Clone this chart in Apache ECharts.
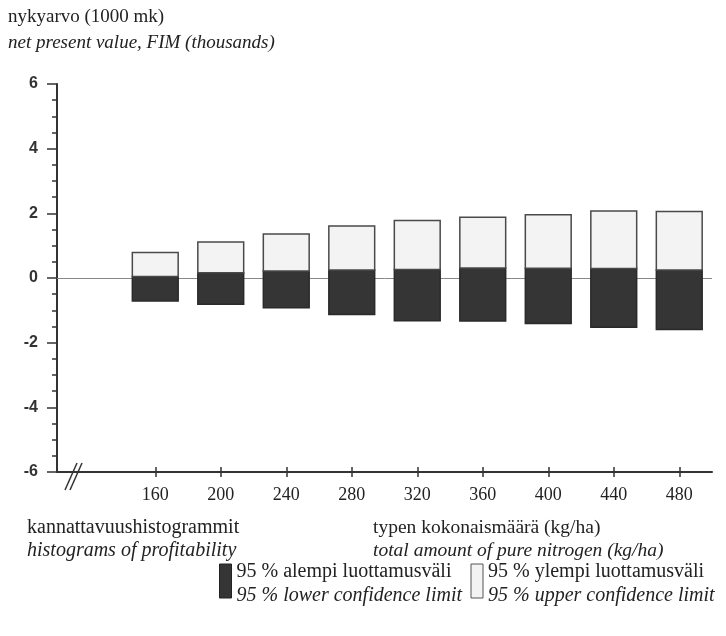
<!DOCTYPE html>
<html>
<head>
<meta charset="utf-8">
<script src="https://cdn.jsdelivr.net/npm/echarts@6/dist/echarts.min.js"></script>
<style>
  html, body { margin: 0; padding: 0; background: #fff; }
  #chart { width: 726px; height: 636px; }
</style>
</head>
<body>
<div id="chart"></div>
<script>
// nitrogen rates (kg/ha)
const nitrogen = [160, 200, 240, 280, 320, 360, 400, 440, 480];
// 95 % upper confidence limit (1000 mk)
const upperLimit = [0.79, 1.11, 1.36, 1.61, 1.78, 1.88, 1.96, 2.07, 2.06];
// split between dark and light part
const midValue = [0.05, 0.16, 0.22, 0.25, 0.26, 0.31, 0.30, 0.29, 0.25];
// 95 % lower confidence limit (1000 mk)
const lowerLimit = [-0.71, -0.81, -0.92, -1.13, -1.32, -1.33, -1.41, -1.52, -1.59];

const serif = '"Liberation Serif", "Times New Roman", serif';
const textColor = '#222';

const darkColor = '#353535';
const lightColor = '#f3f3f3';

// bars: rect from low to high at given nitrogen value
const renderBox = (params, api) => {
    const x = api.value(0);
    const top = api.coord([x, api.value(2)]);
    const bottom = api.coord([x, api.value(1)]);
    const w = api.size([40, 0])[0] * 0.7;
    return {
        type: 'rect',
        shape: { x: top[0] - w / 2, y: top[1], width: w, height: bottom[1] - top[1] },
        style: api.style()
    };
};

const chart = echarts.init(document.getElementById('chart'));
chart.setOption({
    animation: false,
    backgroundColor: '#fff',
    grid: { left: 57, right: 14, top: 84, bottom: 164 },
    xAxis: [
        {
            type: 'value',
            min: 100,
            max: 500,
            axisLine: { onZero: false, lineStyle: { color: '#333', width: 2 } },
            axisTick: { customValues: nitrogen, length: 5, lineStyle: { color: '#333', width: 1.5 } },
            axisLabel: {
                customValues: nitrogen,
                margin: 14,
                fontFamily: serif,
                fontSize: 18,
                color: textColor
            },
            splitLine: { show: false }
        },
        {
            type: 'value',
            min: 100,
            max: 500,
            position: 'bottom',
            axisLine: { show: false, onZero: false },
            axisTick: { customValues: nitrogen, inside: true, length: 5, lineStyle: { color: '#333', width: 1.5 } },
            axisLabel: { show: false },
            splitLine: { show: false }
        }
    ],
    yAxis: {
        type: 'value',
        min: -6,
        max: 6,
        interval: 2,
        axisLine: { show: true, onZero: false, lineStyle: { color: '#333', width: 2 } },
        axisTick: { show: true, length: 10, lineStyle: { color: '#333', width: 1.5 } },
        minorTick: { show: true, splitNumber: 4, length: 5, lineStyle: { color: '#333', width: 1.5 } },
        axisLabel: {
            margin: 19,
            fontFamily: '"Liberation Sans", Arial, sans-serif',
            fontWeight: 'bold',
            fontSize: 16,
            color: '#333'
        },
        splitLine: { show: false }
    },
    legend: {
        left: 219,
        top: 562,
        padding: 0,
        selectedMode: false,
        icon: 'rect',
        itemWidth: 12,
        itemHeight: 34,
        itemGap: 8,
        data: [
            { name: 'lower', itemStyle: { color: darkColor, borderColor: '#222', borderWidth: 1 } },
            { name: 'upper', itemStyle: { color: lightColor, borderColor: '#555', borderWidth: 1 } }
        ],
        formatter: (name) => name === 'lower'
            ? '{a|95 % alempi luottamusväli}\n{b|95 % lower confidence limit}'
            : '{a|95 % ylempi luottamusväli}\n{b|95 % upper confidence limit}',
        textStyle: {
            rich: {
                a: { fontFamily: serif, fontSize: 20, color: textColor, lineHeight: 30, width: 226 },
                b: { fontFamily: serif, fontSize: 20, fontStyle: 'italic', color: textColor, lineHeight: 18, width: 226 }
            }
        }
    },
    graphic: [
        { type: 'text', x: 8, y: 17, style: { text: 'nykyarvo (1000 mk)', font: '19px ' + serif, fill: textColor, verticalAlign: 'middle' } },
        { type: 'text', x: 8, y: 43, style: { text: 'net present value, FIM (thousands)', font: 'italic 19px ' + serif, fill: textColor, verticalAlign: 'middle' } },
        { type: 'text', x: 27, y: 528, style: { text: 'kannattavuushistogrammit', font: '20px ' + serif, fill: textColor, verticalAlign: 'middle' } },
        { type: 'text', x: 27, y: 551, style: { text: 'histograms of profitability', font: 'italic 20px ' + serif, fill: textColor, verticalAlign: 'middle' } },
        { type: 'text', x: 373, y: 528, style: { text: 'typen kokonaismäärä (kg/ha)', font: '19.5px ' + serif, fill: textColor, verticalAlign: 'middle' } },
        { type: 'text', x: 373, y: 551, style: { text: 'total amount of pure nitrogen (kg/ha)', font: 'italic 19.5px ' + serif, fill: textColor, verticalAlign: 'middle' } },
        // axis break marks
        { type: 'line', shape: { x1: 65, y1: 490, x2: 77, y2: 463 }, style: { stroke: '#333', lineWidth: 1.5 }, z: 10 },
        { type: 'line', shape: { x1: 70, y1: 490, x2: 82, y2: 463 }, style: { stroke: '#333', lineWidth: 1.5 }, z: 10 }
    ],
    series: [
        {
            name: 'lower',
            type: 'custom',
            z: 3,
            renderItem: renderBox,
            itemStyle: { color: darkColor, borderColor: '#2a2a2a', borderWidth: 1.5 },
            encode: { x: 0, y: [1, 2] },
            data: nitrogen.map((n, i) => [n, lowerLimit[i], midValue[i]]),
            markLine: {
                z: 1,
                silent: true,
                symbol: 'none',
                label: { show: false },
                lineStyle: { color: '#888', width: 1, type: 'solid' },
                data: [{ yAxis: 0 }]
            }
        },
        {
            name: 'upper',
            type: 'custom',
            z: 3,
            renderItem: renderBox,
            itemStyle: { color: lightColor, borderColor: '#4a4a4a', borderWidth: 1.5 },
            encode: { x: 0, y: [1, 2] },
            data: nitrogen.map((n, i) => [n, midValue[i], upperLimit[i]])
        }
    ]
});
</script>
</body>
</html>
